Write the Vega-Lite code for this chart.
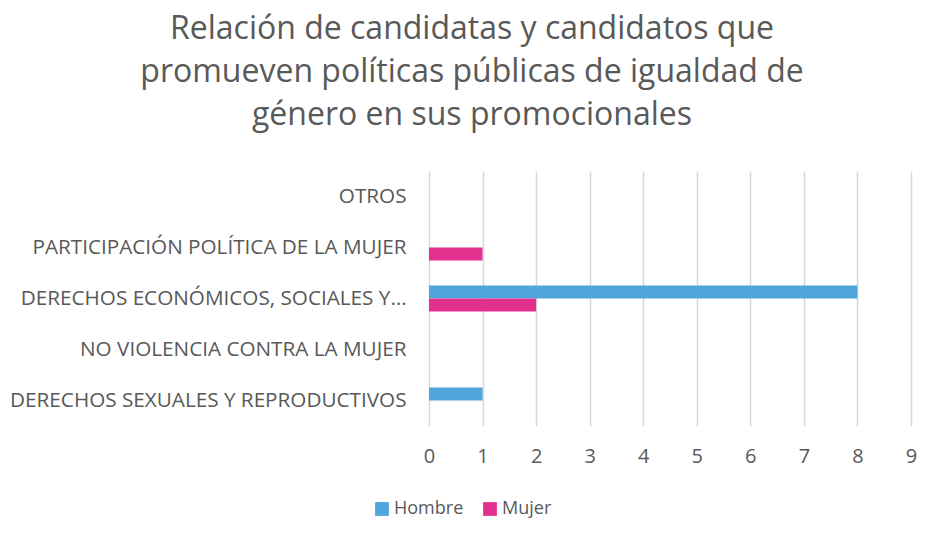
{
  "$schema": "https://vega.github.io/schema/vega-lite/v6.json",
  "width": 482,
  "height": 255,
  "autosize": {"type": "none"},
  "padding": {"left": 429, "top": 171, "right": 26, "bottom": 111},
  "background": "white",
  "title": {
    "text": ["Relación de candidatas y candidatos que", "promueven políticas públicas de igualdad de", "género en sus promocionales"],
    "anchor": "middle",
    "dx": -198,
    "offset": 39,
    "font": "Open Sans",
    "fontSize": 32,
    "fontWeight": "normal",
    "color": "#595959",
    "lineHeight": 43
  },
  "data": {
    "values": [
      {"tema": "OTROS", "sexo": "Hombre", "valor": 0},
      {"tema": "OTROS", "sexo": "Mujer", "valor": 0},
      {"tema": "PARTICIPACIÓN POLÍTICA DE LA MUJER", "sexo": "Hombre", "valor": 0},
      {"tema": "PARTICIPACIÓN POLÍTICA DE LA MUJER", "sexo": "Mujer", "valor": 1},
      {"tema": "DERECHOS ECONÓMICOS, SOCIALES Y…", "sexo": "Hombre", "valor": 8},
      {"tema": "DERECHOS ECONÓMICOS, SOCIALES Y…", "sexo": "Mujer", "valor": 2},
      {"tema": "NO VIOLENCIA CONTRA LA MUJER", "sexo": "Hombre", "valor": 0},
      {"tema": "NO VIOLENCIA CONTRA LA MUJER", "sexo": "Mujer", "valor": 0},
      {"tema": "DERECHOS SEXUALES Y REPRODUCTIVOS", "sexo": "Hombre", "valor": 1},
      {"tema": "DERECHOS SEXUALES Y REPRODUCTIVOS", "sexo": "Mujer", "valor": 0}
    ]
  },
  "mark": {"type": "bar", "cornerRadius": 0},
  "encoding": {
    "y": {
      "field": "tema",
      "type": "nominal",
      "sort": null,
      "scale": {"paddingInner": 0, "paddingOuter": 0},
      "axis": {
        "title": null,
        "domain": false,
        "ticks": false,
        "labelFont": "Open Sans",
        "labelFontSize": 20.7,
        "labelColor": "#595959",
        "labelPadding": 23,
        "labelLimit": 600
      }
    },
    "yOffset": {
      "field": "sexo",
      "type": "nominal",
      "sort": ["Hombre", "Mujer"],
      "scale": {"paddingInner": 0, "paddingOuter": 0.96}
    },
    "x": {
      "field": "valor",
      "type": "quantitative",
      "scale": {"domain": [0, 9], "nice": false},
      "axis": {
        "title": null,
        "values": [0, 1, 2, 3, 4, 5, 6, 7, 8, 9],
        "labelOverlap": false,
        "domain": false,
        "ticks": false,
        "grid": true,
        "gridColor": "#D9D9D9",
        "gridWidth": 1.5,
        "labelFont": "Open Sans",
        "labelFontSize": 20,
        "labelColor": "#595959",
        "labelPadding": 20,
        "labelFlush": false
      }
    },
    "color": {
      "field": "sexo",
      "type": "nominal",
      "sort": ["Hombre", "Mujer"],
      "scale": {"domain": ["Hombre", "Mujer"], "range": ["#4EA6DC", "#E3308F"]},
      "legend": {
        "title": null,
        "orient": "none",
        "direction": "horizontal",
        "legendX": -56,
        "legendY": 329,
        "symbolType": "square",
        "symbolSize": 190,
        "symbolStrokeWidth": 0,
        "labelFont": "Open Sans",
        "labelFontSize": 18,
        "labelColor": "#595959",
        "labelOffset": 3,
        "columnPadding": 17
      }
    }
  },
  "config": {"view": {"stroke": null}}
}
